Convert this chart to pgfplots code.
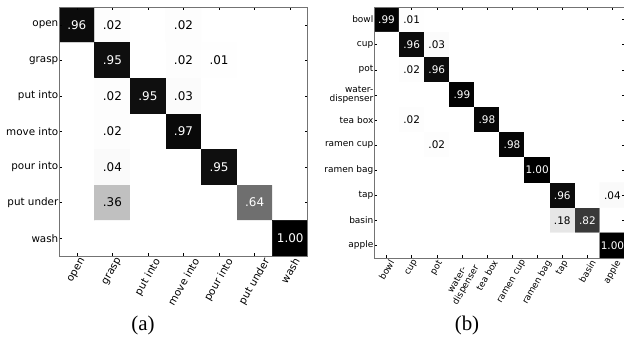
\documentclass[border=0pt]{standalone}
\usepackage{pgfplots}
\pgfplotsset{compat=1.18}
\usepackage{fontspec}
\setmainfont{Liberation Serif}
\newfontfamily\dejavu{DejaVu Sans}
\usepackage{graphicx}

\pgfplotsset{
 cm/.style={
  scale only axis, enlargelimits=false, y dir=reverse,
  colormap={greys}{rgb255=(255,255,255) rgb255=(240,240,240) rgb255=(217,217,217) rgb255=(189,189,189) rgb255=(150,150,150) rgb255=(115,115,115) rgb255=(82,82,82) rgb255=(37,37,37) rgb255=(0,0,0)},
  point meta min=0, point meta max=1,
  axis on top,
  tick align=inside, major tick length=3bp,
  every tick/.style={black, line width=0.5bp},
  axis line style={black!55, line width=1bp},
  xticklabel style={anchor=north, inner sep=1bp},
  yticklabel style={anchor=east, inner sep=0.5bp, align=right},
 },
 lblw/.style={draw=none, mark=none, point meta=explicit,
  nodes near coords={\pgfmathprintnumber[fixed,fixed zerofill,precision=2,skip 0.,assume math mode=true]{\pgfplotspointmeta}},
  every node near coord/.style={anchor=center, text=white, font=#1}},
 lblb/.style={draw=none, mark=none, point meta=explicit,
  nodes near coords={\pgfmathprintnumber[fixed,fixed zerofill,precision=2,skip 0.,assume math mode=true]{\pgfplotspointmeta}},
  every node near coord/.style={anchor=center, text=black, font=#1}},
}

\begin{document}
\begin{tikzpicture}
% ---------------- (a) ----------------
\begin{axis}[cm, at={(59bp,89bp)}, anchor=south west, width=249bp, height=249bp,
  xmin=-0.5, xmax=6.5, ymin=-0.5, ymax=6.5,
  xtick={0,...,6}, ytick={0,...,6},
  ticklabel style={font=\dejavu\fontsize{10.4}{11}\selectfont},
  yticklabels={open,grasp,put into,move into,pour into,put under,wash},
  xticklabels={\rotatebox{60}{open},\rotatebox{60}{grasp},\rotatebox{60}{put into},\rotatebox{60}{move into},\rotatebox{60}{pour into},\rotatebox{60}{put under},\rotatebox{60}{wash}},
]
\addplot[matrix plot*, mesh/cols=7, point meta=explicit] table[meta=v, row sep=\\]{
x y v\\
0 0 .96\\ 1 0 .02\\ 2 0 0\\ 3 0 .02\\ 4 0 0\\ 5 0 0\\ 6 0 0\\
0 1 0\\ 1 1 .95\\ 2 1 0\\ 3 1 .02\\ 4 1 .01\\ 5 1 0\\ 6 1 0\\
0 2 0\\ 1 2 .02\\ 2 2 .95\\ 3 2 .03\\ 4 2 0\\ 5 2 0\\ 6 2 0\\
0 3 .004\\ 1 3 .02\\ 2 3 0\\ 3 3 .97\\ 4 3 0\\ 5 3 0\\ 6 3 0\\
0 4 0\\ 1 4 .04\\ 2 4 0\\ 3 4 .004\\ 4 4 .95\\ 5 4 0\\ 6 4 0\\
0 5 0\\ 1 5 .36\\ 2 5 0\\ 3 5 0\\ 4 5 0\\ 5 5 .64\\ 6 5 0\\
0 6 0\\ 1 6 0\\ 2 6 0\\ 3 6 0\\ 4 6 0\\ 5 6 0\\ 6 6 1.00\\
};
\addplot[lblw={\dejavu\fontsize{12}{14}\selectfont}] table[meta=v, row sep=\\]{
x y v\\ 0 0 .96\\ 1 1 .95\\ 2 2 .95\\ 3 3 .97\\ 4 4 .95\\ 5 5 .64\\ 6 6 1.00\\
};
\addplot[lblb={\dejavu\fontsize{12}{14}\selectfont}] table[meta=v, row sep=\\]{
x y v\\ 1 0 .02\\ 3 0 .02\\ 3 1 .02\\ 4 1 .01\\ 1 2 .02\\ 3 2 .03\\ 1 3 .02\\ 1 4 .04\\ 1 5 .36\\
};
\end{axis}
% ---------------- (b) ----------------
\begin{axis}[cm, at={(374bp,87bp)}, anchor=south west, width=251bp, height=251bp,
  xmin=-0.5, xmax=9.5, ymin=-0.5, ymax=9.5,
  xtick={0,...,9}, ytick={0,...,9},
  ticklabel style={font=\dejavu\fontsize{9}{9}\selectfont},
  yticklabels={bowl,cup,pot,{water-\\dispenser},tea box,ramen cup,ramen bag,tap,basin,apple},
  xticklabels={\rotatebox{60}{bowl},\rotatebox{60}{cup},\rotatebox{60}{pot},\rotatebox{60}{\shortstack{water-\\dispenser}},\rotatebox{60}{tea box},\rotatebox{60}{ramen cup},\rotatebox{60}{ramen bag},\rotatebox{60}{tap},\rotatebox{60}{basin},\rotatebox{60}{apple}},
]
\addplot[matrix plot*, mesh/cols=10, point meta=explicit] table[meta=v, row sep=\\]{
x y v\\
0 0 .99\\ 1 0 .01\\ 2 0 0\\ 3 0 0\\ 4 0 0\\ 5 0 0\\ 6 0 0\\ 7 0 0\\ 8 0 0\\ 9 0 0\\
0 1 0\\ 1 1 .96\\ 2 1 .03\\ 3 1 0\\ 4 1 .004\\ 5 1 0\\ 6 1 0\\ 7 1 0\\ 8 1 0\\ 9 1 0\\
0 2 0\\ 1 2 .02\\ 2 2 .96\\ 3 2 0\\ 4 2 0\\ 5 2 .004\\ 6 2 0\\ 7 2 0\\ 8 2 0\\ 9 2 0\\
0 3 .004\\ 1 3 .004\\ 2 3 0\\ 3 3 .99\\ 4 3 0\\ 5 3 0\\ 6 3 0\\ 7 3 0\\ 8 3 0\\ 9 3 0\\
0 4 0\\ 1 4 .02\\ 2 4 0\\ 3 4 0\\ 4 4 .98\\ 5 4 0\\ 6 4 0\\ 7 4 0\\ 8 4 0\\ 9 4 0\\
0 5 0\\ 1 5 0\\ 2 5 .02\\ 3 5 0\\ 4 5 0\\ 5 5 .98\\ 6 5 0\\ 7 5 0\\ 8 5 0\\ 9 5 0\\
0 6 0\\ 1 6 0\\ 2 6 0\\ 3 6 0\\ 4 6 0\\ 5 6 0\\ 6 6 1.00\\ 7 6 0\\ 8 6 0\\ 9 6 0\\
0 7 0\\ 1 7 0\\ 2 7 0\\ 3 7 0\\ 4 7 0\\ 5 7 0\\ 6 7 0\\ 7 7 .96\\ 8 7 0\\ 9 7 .04\\
0 8 0\\ 1 8 0\\ 2 8 0\\ 3 8 0\\ 4 8 0\\ 5 8 0\\ 6 8 0\\ 7 8 .18\\ 8 8 .82\\ 9 8 0\\
0 9 0\\ 1 9 0\\ 2 9 0\\ 3 9 0\\ 4 9 0\\ 5 9 0\\ 6 9 0\\ 7 9 0\\ 8 9 0\\ 9 9 1.00\\
};
\addplot[lblw={\dejavu\fontsize{10.5}{12}\selectfont}] table[meta=v, row sep=\\]{
x y v\\ 0 0 .99\\ 1 1 .96\\ 2 2 .96\\ 3 3 .99\\ 4 4 .98\\ 5 5 .98\\ 6 6 1.00\\ 7 7 .96\\ 8 8 .82\\ 9 9 1.00\\
};
\addplot[lblb={\dejavu\fontsize{10.5}{12}\selectfont}] table[meta=v, row sep=\\]{
x y v\\ 1 0 .01\\ 2 1 .03\\ 1 2 .02\\ 1 4 .02\\ 2 5 .02\\ 9 7 .04\\ 7 8 .18\\
};
\end{axis}
\node[font=\fontsize{21}{24}\selectfont] at (143bp,20bp) {(a)};
\node[font=\fontsize{21}{24}\selectfont] at (467bp,20bp) {(b)};
\pgfresetboundingbox
\path (0,0) rectangle (624bp,345bp);
\end{tikzpicture}
\end{document}
